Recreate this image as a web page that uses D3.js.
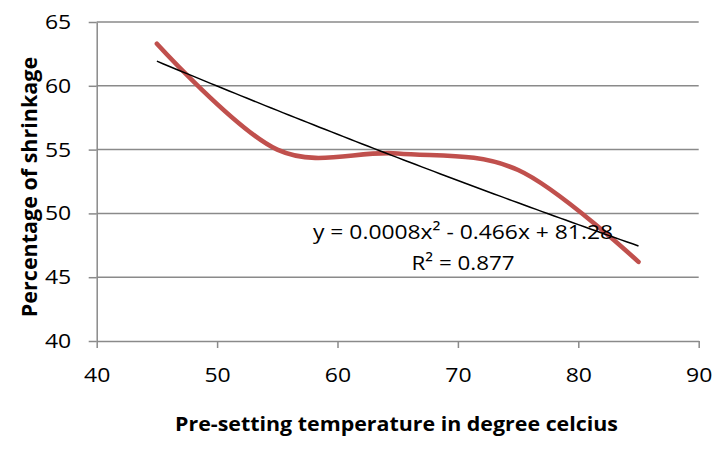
<!DOCTYPE html>
<html>
<head>
<meta charset="utf-8">
<script src="https://cdn.jsdelivr.net/npm/d3@7"></script>
<style>
  html, body { margin: 0; padding: 0; background: #fff; }
  svg { display: block; }
  text { font-family: "Open Sans", "Noto Sans", sans-serif; fill: #000; }
</style>
</head>
<body>
<svg id="chart" width="717" height="450"></svg>
<script>
// Measured shrinkage at each pre-setting temperature
const temperatures = [45, 55, 65, 75, 85];
const shrinkage = [63.3, 55.0, 54.7, 53.4, 46.2];

// Polynomial trend line (order 2) and its label
const trendCoefficients = [0.0008, -0.466, 81.28]; // a x^2 + b x + c
const trendRange = [45, 85];
const equationLines = ["y = 0.0008x\u00B2 - 0.466x + 81.28", "R\u00B2 = 0.877"];

// Axis ticks and titles
const xTicks = [40, 50, 60, 70, 80, 90];
const yTicks = [40, 45, 50, 55, 60, 65];
const xTitle = "Pre-setting temperature in degree celcius";
const yTitle = "Percentage of shrinkage";

const svg = d3.select("#chart");

const x = d3.scaleLinear().domain([40, 90]).range([96.7, 698.7]);
const y = d3.scaleLinear().domain([40, 65]).range([341, 22]);

const gridColor = "#8a8a8a";
const stretch = 1.15; // slightly wide lettering

// Horizontal gridlines
svg.append("g")
  .selectAll("line")
  .data(yTicks.filter(d => d > 40))
  .join("line")
  .attr("x1", x(40)).attr("x2", x(90))
  .attr("y1", d => y(d)).attr("y2", d => y(d))
  .attr("stroke", gridColor).attr("stroke-width", 1.5);

// X axis
const xAxis = svg.append("g")
  .attr("transform", `translate(0,${y(40)})`)
  .call(d3.axisBottom(x).tickValues(xTicks).tickSize(7).tickPadding(20).tickSizeOuter(0));
xAxis.select(".domain").attr("stroke", gridColor).attr("stroke-width", 1.5);
xAxis.selectAll(".tick line").attr("stroke", gridColor).attr("stroke-width", 1.5);
xAxis.selectAll(".tick text")
  .attr("font-family", "Open Sans").attr("font-size", 20).attr("fill", "#000")
  .attr("transform", `scale(${stretch},1)`);

// Y axis
const yAxis = svg.append("g")
  .attr("transform", `translate(${x(40)},0)`)
  .call(d3.axisLeft(y).tickValues(yTicks).tickSize(8).tickPadding(17).tickSizeOuter(0));
yAxis.select(".domain").attr("stroke", gridColor).attr("stroke-width", 1.5);
yAxis.selectAll(".tick line").attr("stroke", gridColor).attr("stroke-width", 1.5);
yAxis.selectAll(".tick text")
  .attr("font-family", "Open Sans").attr("font-size", 20).attr("fill", "#000")
  .attr("x", 0)
  .attr("transform", `translate(-25.5,0) scale(${stretch},1)`);

// Smoothed data series
const line = d3.line()
  .x(d => x(d[0]))
  .y(d => y(d[1]))
  .curve(d3.curveCardinal.tension(0));

svg.append("path")
  .datum(temperatures.map((t, i) => [t, shrinkage[i]]))
  .attr("d", line)
  .attr("fill", "none")
  .attr("stroke", "#C0504D")
  .attr("stroke-width", 4.6)
  .attr("stroke-linecap", "round")
  .attr("stroke-linejoin", "round");

// Trend line evaluated from its equation
const [a, b, c] = trendCoefficients;
const trendPts = d3.range(trendRange[0], trendRange[1] + 0.001, 0.5)
  .map(t => [t, a * t * t + b * t + c]);
svg.append("path")
  .datum(trendPts)
  .attr("d", d3.line().x(d => x(d[0])).y(d => y(d[1])))
  .attr("fill", "none")
  .attr("stroke", "#000")
  .attr("stroke-width", 1.5);

// Trend equation label
const eqWidths = [300, 103];
svg.append("g")
  .selectAll("text")
  .data(equationLines)
  .join("text")
  .attr("x", 463)
  .attr("y", (d, i) => 239 + i * 31)
  .attr("text-anchor", "middle")
  .attr("font-size", 20)
  .attr("textLength", (d, i) => eqWidths[i])
  .attr("lengthAdjust", "spacingAndGlyphs")
  .text(d => d);

// Axis titles
svg.append("text")
  .attr("x", 396.5).attr("y", 431)
  .attr("text-anchor", "middle")
  .attr("font-weight", "bold")
  .attr("font-size", 20)
  .attr("textLength", 443)
  .attr("lengthAdjust", "spacingAndGlyphs")
  .text(xTitle);

svg.append("text")
  .attr("transform", "translate(37,187) rotate(-90)")
  .attr("text-anchor", "middle")
  .attr("font-weight", "bold")
  .attr("font-size", 21.5)
  .text(yTitle);
</script>
</body>
</html>
